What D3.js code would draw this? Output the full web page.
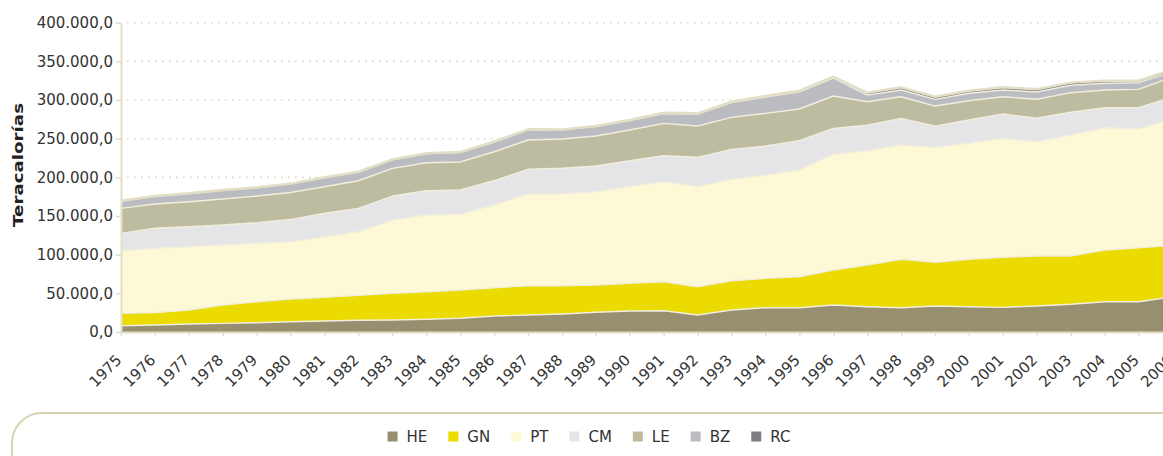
<!DOCTYPE html>
<html>
<head>
<meta charset="utf-8">
<script src="https://cdn.jsdelivr.net/npm/d3@7"></script>
<style>
	body { margin: 0; background: #fff; }
	svg { display: block; font-family: "DejaVu Sans", sans-serif; }
	.tick text { fill: #333; font-size: 15px; }
</style>
</head>
<body>
<svg id="chart" width="1163" height="456"></svg>
<script>

// data (teracalorías, stacked)
const years = d3.range(1975, 2007);
const series_keys = ["HE", "GN", "PT", "CM", "LE", "BZ", "RC"];

const HE = [8100, 9100, 10300, 11200, 12000, 13300, 14200, 15100, 15500, 16400, 17700, 20700, 22000, 23300, 25500, 27200,
	27500, 22000, 28400, 31400, 31400, 34900, 32700, 31400, 33600, 32700, 31900, 33600, 35800, 39200, 39200, 45500];
const GN = [16000, 15900, 18100, 23700, 27200, 29400, 30600, 32300, 34500, 35700, 36600, 36600, 37900, 36600, 35300, 35800,
	37500, 36600, 37900, 38000, 40100, 45300, 53900, 62600, 56500, 61300, 64700, 64700, 62500, 66800, 69800, 66600];
const PT = [80600, 83300, 81800, 77600, 75500, 74000, 78400, 82200, 94800, 99200, 97900, 106900, 118600, 118600, 120600, 124900,
	129300, 129300, 131100, 133600, 138000, 149600, 147800, 147800, 148700, 150000, 153900, 147800, 156500, 158100, 153500, 163800];
const CM = [22900, 25900, 25900, 25900, 26600, 28700, 30300, 30300, 31000, 31400, 31400, 31400, 31900, 33200, 33200, 33600,
	33600, 38000, 38800, 37500, 37900, 33600, 33200, 34500, 27500, 30100, 31400, 30300, 29400, 25900, 27500, 28200];
const LE = [32300, 31400, 32300, 33600, 34500, 35000, 34400, 35700, 35800, 36200, 36200, 37500, 37900, 37900, 38800, 39700,
	41900, 40500, 41400, 42300, 41000, 41800, 30100, 27900, 25900, 25000, 22400, 24600, 25300, 22900, 23800, 25500];
const BZ = [9500, 10000, 10600, 11300, 10900, 11200, 11900, 11300, 11300, 11900, 12600, 12600, 13400, 11800, 12500, 12400,
	12700, 15400, 19000, 21000, 22200, 23300, 8700, 8700, 8700, 9600, 8700, 9400, 9600, 8700, 8600, 6900];
const RC = [300, 300, 300, 300, 300, 300, 300, 300, 300, 300, 300, 300, 400, 400, 400, 500,
	1000, 1000, 1200, 1400, 1500, 1700, 3000, 3500, 3400, 3400, 3500, 3500, 3400, 3400, 2600, 3100];

const y_ticks = d3.range(0, 400001, 50000);
const y_title = "Teracalorías";

const colors = {
	HE: "#978f6f",
	GN: "#ebdb00",
	PT: "#fdf9d6",
	CM: "#e5e5e7",
	LE: "#bdbba0",
	BZ: "#bbbbc2",
	RC: "#7d7d82"
};

function drawChart() {
	const svg = d3.select("#chart");
	const beige = "#e3dfc6";

	const series_values = { HE, GN, PT, CM, LE, BZ, RC };
	const table = years.map((yr, i) => {
		let row = { year: yr };
		series_keys.forEach(k => { row[k] = series_values[k][i]; });
		return row;
	});

	const x = d3.scaleLinear()
		.domain([1975, 2006])
		.range([121, 121 + 31 * 33.92]);

	const y = d3.scaleLinear()
		.domain([0, 400000])
		.range([332, 22.7]);

	const es_locale = d3.formatLocale({ decimal: ",", thousands: ".", grouping: [3], currency: ["", ""] });
	const fmt = es_locale.format(",.1f");

	// dotted grid
	svg.append("g")
		.selectAll("line")
		.data(y_ticks.filter(d => d > 0))
		.enter()
		.append("line")
			.attr("x1", x.range()[0] + 6)
			.attr("x2", 1163)
			.attr("y1", d => y(d))
			.attr("y2", d => y(d))
			.attr("stroke", "#dcd8bd")
			.attr("stroke-width", 1.6)
			.attr("stroke-dasharray", "1.6,5.4");

	const stacked = d3.stack().keys(series_keys)(table);

	const area = d3.area()
		.x(d => x(d.data.year))
		.y0(d => y(d[0]))
		.y1(d => y(d[1]));

	const top_line = d3.line()
		.x(d => x(d.data.year))
		.y(d => y(d[1]));

	svg.append("g")
		.selectAll("path")
		.data(stacked)
		.enter()
		.append("path")
			.attr("d", area)
			.attr("fill", d => colors[d.key]);

	// light separators between layers, beige edge on top
	svg.append("g")
		.selectAll("path")
		.data(stacked)
		.enter()
		.append("path")
			.attr("d", top_line)
			.attr("fill", "none")
			.attr("stroke", (d, i) => i == stacked.length - 1 ? beige : "#f1eedd")
			.attr("stroke-width", (d, i) => i == stacked.length - 1 ? 2.5 : 1.4)
			.attr("stroke-linejoin", "round");

	// axes
	const y_axis = svg.append("g")
		.attr("transform", "translate(" + x.range()[0] + ",0)")
		.call(d3.axisLeft(y).tickValues(y_ticks).tickFormat(fmt).tickSize(5).tickSizeOuter(0).tickPadding(3));

	const x_axis = svg.append("g")
		.attr("transform", "translate(0," + y(0) + ")")
		.call(d3.axisBottom(x).tickValues(years).tickFormat(d3.format("d")).tickSize(4).tickSizeOuter(0));

	[y_axis, x_axis].forEach(a => {
		a.attr("font-family", null).attr("font-size", null);
		a.select(".domain").attr("stroke", beige).attr("stroke-width", 2);
		a.selectAll(".tick line").attr("stroke", beige).attr("stroke-width", 1.5);
	});

	x_axis.selectAll(".tick text")
		.attr("x", 0)
		.attr("y", 0)
		.attr("dy", 0)
		.attr("text-anchor", "end")
		.attr("transform", "translate(1,29) rotate(-45)");

	svg.append("text")
		.attr("transform", "translate(23,165) rotate(-90)")
		.attr("text-anchor", "middle")
		.attr("font-size", 14)
		.attr("font-weight", "bold")
		.attr("fill", "#222")
		.attr("textLength", 124)
		.attr("lengthAdjust", "spacingAndGlyphs")
		.text(y_title);

	// legend box and items
	svg.append("rect")
		.attr("x", 12)
		.attr("y", 413)
		.attr("width", 1180)
		.attr("height", 70)
		.attr("rx", 30)
		.attr("fill", "none")
		.attr("stroke", "#d8d4b3")
		.attr("stroke-width", 2);

	const legend = svg.append("g");
	let cursor = 0;
	series_keys.forEach(k => {
		const item = legend.append("g").attr("transform", "translate(" + cursor + ",0)");
		item.append("rect")
			.attr("x", 0)
			.attr("y", -10)
			.attr("width", 10)
			.attr("height", 10)
			.attr("fill", colors[k]);
		const label = item.append("text")
			.attr("x", 19)
			.attr("y", 0.5)
			.attr("font-size", 15)
			.attr("fill", "#333")
			.text(k);
		cursor += 19 + label.node().getComputedTextLength() + 21;
	});
	const legend_width = cursor - 21;
	legend.attr("transform", "translate(" + (589 - legend_width / 2) + ",441.5)");
}

function whenDocumentLoaded(action) {
	if (document.readyState === "loading") {
		document.addEventListener("DOMContentLoaded", action);
	} else {
		action();
	}
}

whenDocumentLoaded(drawChart);
</script>
</body>
</html>
